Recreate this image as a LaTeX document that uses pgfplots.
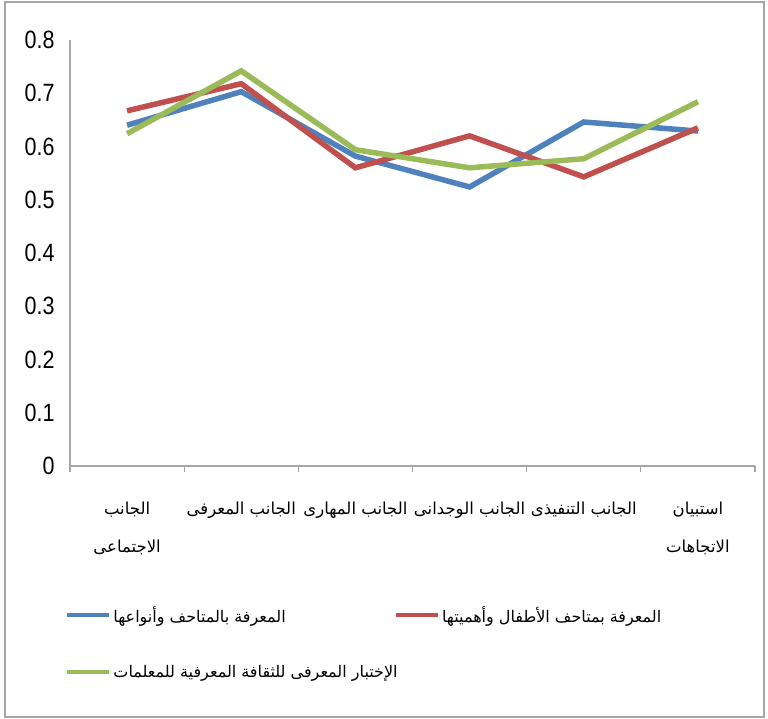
\documentclass[border=0pt]{standalone}
\usepackage{fontspec}
\setmainfont{Liberation Sans}
\newfontfamily\numfont{Liberation Sans}[FakeStretch=0.86]
\newfontfamily\arabicfont[Script=Arabic]{DejaVu Sans}
\TeXXeTstate=1
\usepackage{pgfplots}
\pgfplotsset{compat=1.18}
\definecolor{cblue}{HTML}{4F81BD}
\definecolor{cred}{HTML}{C0504D}
\definecolor{cgreen}{HTML}{9BBB59}
\definecolor{axgray}{HTML}{A6A6A6}
\begin{document}
\begin{tikzpicture}
\useasboundingbox (0,0) rectangle (768bp,719bp);
\draw[color=axgray, line width=2bp] (5bp,2bp) rectangle (764bp,717bp);
\begin{axis}[
  at={(70bp,253bp)}, anchor=south west,
  scale only axis, width=685bp, height=426bp,
  xmin=0, xmax=6, ymin=0, ymax=0.8,
  axis x line*=bottom, axis y line*=left,
  axis line style={axgray, line width=1.2bp, -},
  ytick={0,0.1,...,0.8},
  yticklabels={0,0.1,0.2,0.3,0.4,0.5,0.6,0.7,0.8},
  ytick style={draw=none},
  xtick={0.5,1.5,2.5,3.5,4.5,5.5},
  xticklabels={{\arabicfont\beginR الجانب\endR\\\beginR الاجتماعى\endR},{\arabicfont\beginR الجانب المعرفى\endR},{\arabicfont\beginR الجانب المهارى\endR},{\arabicfont\beginR الجانب الوجدانى\endR},{\arabicfont\beginR الجانب التنفيذى\endR},{\arabicfont\beginR استبيان\endR\\\beginR الاتجاهات\endR}},
  xtick style={draw=none},
  tick align=inside,
  extra x ticks={0,1,2,3,4,5,6},
  extra x tick labels={},
  extra x tick style={xtick style={draw=axgray, line width=1.2bp}, major tick length=6bp, tick align=outside},
  yticklabel style={font=\numfont\fontsize{25bp}{28bp}\selectfont, xshift=-12bp},
  xticklabel style={font=\arabicfont\fontsize{16.5bp}{38bp}\selectfont, align=center, yshift=-32bp},
  legend columns=2,
  legend cell align=left,
  legend style={at={(axis description cs:-0.012,-0.32)}, anchor=north west, draw=none, fill=none,
    font=\arabicfont\fontsize{16bp}{20bp}\selectfont, row sep=37bp,
    /tikz/every even column/.append style={column sep=-6bp}},
  legend image code/.code={\draw[#1, line width=4.5bp] (0bp,0bp) -- (42bp,0bp);},
]
\addplot[cblue, line width=5.5bp] coordinates {(0.5,0.640) (1.5,0.703) (2.5,0.582) (3.5,0.524) (4.5,0.646) (5.5,0.629)};
\addlegendentry{\beginR المعرفة بالمتاحف وأنواعها\endR}
\addplot[cred, line width=5.5bp] coordinates {(0.5,0.667) (1.5,0.718) (2.5,0.560) (3.5,0.620) (4.5,0.543) (5.5,0.635)};
\addlegendentry{\beginR المعرفة بمتاحف الأطفال وأهميتها\endR}
\addplot[cgreen, line width=5.5bp] coordinates {(0.5,0.624) (1.5,0.742) (2.5,0.594) (3.5,0.560) (4.5,0.577) (5.5,0.684)};
\addlegendentry{\beginR الإختبار المعرفى للثقافة المعرفية للمعلمات\endR}
\end{axis}
\end{tikzpicture}
\end{document}
